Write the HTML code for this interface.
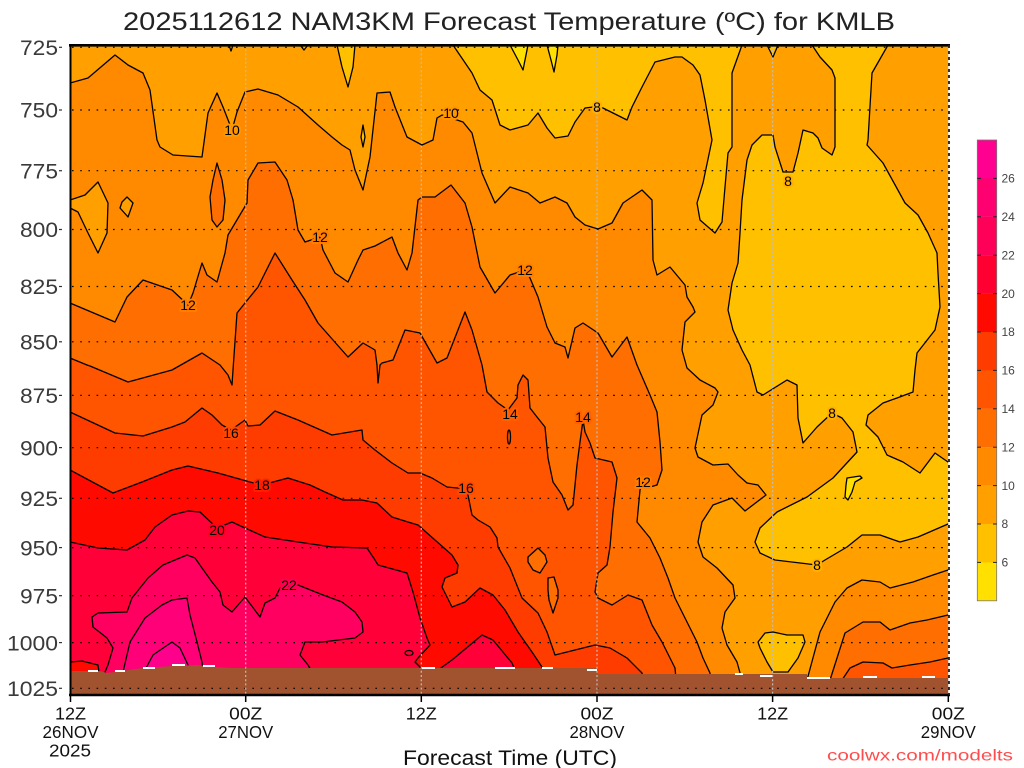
<!DOCTYPE html>
<html><head><meta charset="utf-8"><title>NAM3KM Forecast Temperature KMLB</title>
<style>html,body{margin:0;padding:0;background:#fff;}svg{display:block;}</style></head>
<body>
<svg width="1024" height="768" viewBox="0 0 1024 768" xmlns="http://www.w3.org/2000/svg" font-family="Liberation Sans, sans-serif">
<rect width="1024" height="768" fill="#fff"/>
<defs><clipPath id="c"><rect x="70" y="45" width="878.5" height="650"/></clipPath></defs>

<g clip-path="url(#c)" stroke="#000" stroke-width="1.3" stroke-linejoin="round">
<rect x="60" y="40" width="900" height="670" fill="#FFA000" stroke="none"/>
<g fill="#FFC000">
<polygon points="453,40 453,45 472,73 480,90 492,100 500,125 510,130 528,125 538,113 547,128 555,138 568,136 575,122 585,108 593,107 603,108 627,120 632,107 642,87 655,62 675,57 682,57 693,65 700,75 705,100 712,140 703,183 697,203 700,220 715,233 722,222 725,187 728,153 732,147 732,73 742,45 742,40"/>
<polygon points="812,40 812,45 820,57 832,70 835,78 835,147 832,155 822,148 818,138 813,133 803,130 798,153 793,172 783,172 775,147 773,135 762,135 752,145 747,160 742,200 740,233 738,263 732,283 728,310 733,330 742,350 750,365 757,392 763,395 787,380 797,385 798,418 803,443 817,427 832,413 842,418 853,432 857,452 833,478 807,497 777,512 760,528 755,542 760,553 775,560 817,565 825,560 847,547 862,535 880,535 900,542 918,537 948,524 955,522 955,462 948,462 935,453 920,473 903,462 887,455 878,437 866,425 868,415 883,403 897,398 913,392 915,370 917,353 935,330 940,307 938,273 937,253 928,233 918,215 905,203 883,163 867,145 868,140 872,73 888,45 888,40"/>
<polygon points="767,40 767,45 773,57 778,45 778,40"/>
<polygon points="337,40 337,45 342,67 348,87 353,67 355,45 355,40"/>
<polygon points="363,125 365,137 363,147 361,137"/>
<polygon points="300,40 300,45 304,50 308,45 308,40"/>
<polygon points="229,40 229,45 231,51 233,45 233,40"/>
<polygon points="758,642 765,633 773,632 787,635 803,635 805,642 798,658 788,672 773,672 767,662 760,648"/>
</g>
<g fill="#FFE000">
<polygon points="510,40 510,45 518,60 523,70 526,55 528,45 528,40"/>
<polygon points="547,40 547,45 551,60 554,72 557,55 558,45 558,40"/>
<polygon points="847,478 860,476 862,478 855,482 852,492 848,500 845,497 846,485"/>
</g>
<g fill="#FF8A00">
<polygon points="65,83 70,83 88,78 115,55 128,65 143,73 150,90 157,140 160,147 173,155 202,157 208,113 217,93 223,107 232,130 237,112 245,92 258,89 278,95 298,107 318,125 332,137 342,145 350,150 355,170 363,190 370,157 377,93 390,92 395,107 407,137 422,145 433,140 437,118 442,115 463,122 472,133 482,173 495,203 510,187 528,193 540,203 555,197 567,203 575,217 585,225 598,229 612,223 623,203 642,190 652,200 653,260 657,275 670,267 685,285 687,297 693,307 695,312 685,322 682,350 687,368 700,380 715,388 718,392 713,405 702,415 695,448 698,457 713,465 728,464 738,475 747,483 758,485 766,495 745,511 732,498 713,505 702,522 698,542 703,557 717,568 733,585 735,598 725,612 722,628 727,645 737,662 742,680 742,700 65,700"/>
<polygon points="807,680 820,632 835,602 847,588 862,580 880,582 890,588 913,582 933,575 948,570 955,570 955,700 807,700"/>
</g>
<g fill="#FFA000">
<polygon points="65,200 70,200 85,195 98,182 108,203 107,233 98,253 88,233 78,212 70,208 65,208"/>
<polygon points="127,197 133,203 128,217 120,208 122,202"/>
</g>
<g fill="#FF6E00">
<polygon points="65,303 70,303 115,322 127,297 143,280 172,290 188,305 193,293 202,263 207,275 217,282 225,253 228,235 247,203 248,180 258,163 275,162 287,180 293,200 298,230 305,242 320,237 323,250 335,273 348,282 358,260 363,250 375,246 392,237 398,253 407,270 412,253 418,200 422,197 435,197 451,185 465,203 472,227 480,267 495,293 510,275 525,270 530,278 538,297 547,327 555,343 565,347 568,358 575,328 583,323 598,333 612,357 627,337 637,365 650,395 657,412 660,442 662,470 657,485 650,487 643,482 640,490 637,522 650,538 660,558 668,578 675,598 687,622 697,642 703,658 710,673 712,700 65,700"/>
<polygon points="830,680 845,633 863,622 880,622 890,630 910,623 927,620 948,615 955,615 955,700 830,700"/>
<polygon points="217,163 222,180 225,200 223,220 217,227 212,220 210,197 213,180"/>
</g>
<g fill="#FF5500">
<polygon points="65,358 70,358 87,365 90,366 128,382 172,370 202,353 220,365 228,375 232,385 233,370 237,313 245,303 258,287 275,253 292,280 305,300 318,323 348,357 363,343 375,350 377,365 378,383 380,365 382,363 393,360 405,330 420,333 437,363 447,358 465,312 472,330 482,365 487,392 498,403 508,410 517,398 518,385 523,375 528,380 530,408 537,417 545,427 548,458 553,482 562,495 568,510 573,505 577,465 580,442 583,420 585,432 590,443 595,458 612,462 617,478 613,512 610,547 607,565 598,573 595,592 598,598 612,605 628,595 642,600 652,625 662,642 675,668 678,700 65,700"/>
<polygon points="842,680 850,668 863,662 883,663 892,668 910,665 930,662 948,658 955,658 955,700 842,700"/>
</g>
<g fill="#FF6E00">
<polygon points="528,557 538,548 545,555 547,562 540,573 533,570 528,562"/>
<polygon points="548,578 554,577 558,590 558,598 553,613 549,600 548,590"/>
</g>
<ellipse cx="509" cy="437" rx="1.5" ry="7" fill="none"/>
<polygon fill="#FF3C00" points="65,412 70,412 115,433 143,436 172,427 185,422 202,408 212,415 222,425 231,430 245,420 248,426 260,425 275,411 298,420 332,435 362,430 363,440 375,450 392,463 408,473 420,473 432,478 447,487 457,488 466,488 468,495 472,515 478,520 490,527 497,538 498,547 510,568 522,598 538,613 547,632 555,655 575,650 595,645 610,648 627,658 642,673 645,700 65,700"/>
<polygon fill="#FF0A00" points="65,470 70,470 113,493 142,482 172,470 188,466 218,473 250,482 262,485 273,482 288,478 310,485 325,492 343,500 362,500 377,503 392,517 408,522 418,525 435,540 452,555 458,565 457,573 445,578 442,587 447,597 452,607 465,602 480,588 493,595 505,610 518,632 532,652 542,667 545,700 65,700"/>
<g fill="#FF0038">
<polygon points="65,542 70,542 98,548 127,550 145,540 155,527 172,515 188,511 200,512 217,528 232,522 245,528 265,537 298,542 332,547 367,548 375,560 378,565 407,573 413,592 420,618 427,638 430,645 418,658 415,662 423,670 425,700 65,700"/>
<polygon points="438,670 452,660 482,635 493,640 512,663 515,670 516,700 437,700"/>
</g>
<ellipse cx="409" cy="653" rx="4" ry="2.5" fill="none"/>
<polygon fill="#FF0A00" points="65,662 70,662 82,661 98,665 100,680 65,680"/>
<polygon fill="#FF0060" points="105,672 108,665 113,648 107,638 93,627 92,617 98,613 127,612 132,598 148,578 163,565 187,555 195,558 202,568 212,582 220,592 223,605 232,612 245,597 260,617 265,603 275,598 280,588 298,585 323,595 342,602 355,612 362,622 363,632 355,638 322,642 305,642 300,655 308,665 312,672 312,700 105,700"/>
<polygon fill="#FF0078" points="123,672 130,642 145,618 162,605 172,600 187,598 190,615 197,642 202,662 203,672 203,700 123,700"/>
<polygon fill="#FF008C" points="145,670 153,655 172,642 180,648 188,665 188,700 145,700"/>

<polygon fill="#A0532E" stroke="none" points="65,671 100,671 107,673 115,672 143,668 173,666 197,665 213,667 233,668 598,668 598,674 807,674 807,678 955,678 955,700 65,700"/>
<g fill="#fff" stroke="none">
<rect x="88" y="670" width="10" height="2"/><rect x="115" y="670" width="10" height="2"/>
<rect x="143" y="667" width="12" height="2"/><rect x="172" y="664" width="13" height="2"/>
<rect x="203" y="665" width="12" height="2"/><rect x="422" y="667" width="13" height="2"/>
<rect x="495" y="667" width="20" height="2"/><rect x="542" y="667" width="11" height="2"/>
<rect x="587" y="669" width="10" height="2"/><rect x="735" y="673" width="8" height="2"/>
<rect x="760" y="675" width="13" height="2"/><rect x="807" y="677" width="23" height="2"/>
<rect x="863" y="676" width="14" height="2"/><rect x="922" y="676" width="13" height="2"/>
</g>

<g font-size="14" fill="#000" stroke-width="4" paint-order="stroke" text-anchor="middle">
<text x="232" y="135" stroke="#FF9500">10</text>
<text x="188" y="310" stroke="#FF7D00">12</text>
<text x="320" y="242" stroke="#FF7D00">12</text>
<text x="451" y="118" stroke="#FF9500">10</text>
<text x="597" y="112" stroke="#FFB000">8</text>
<text x="525" y="275" stroke="#FF7D00">12</text>
<text x="788" y="186" stroke="#FFB000">8</text>
<text x="510" y="419" stroke="#FF6000">14</text>
<text x="583" y="422" stroke="#FF6000">14</text>
<text x="643" y="487" stroke="#FF7D00">12</text>
<text x="231" y="438" stroke="#FF4800">16</text>
<text x="262" y="490" stroke="#FF2000">18</text>
<text x="217" y="535" stroke="#FF0020">20</text>
<text x="289" y="590" stroke="#FF0050">22</text>
<text x="466" y="493" stroke="#FF4800">16</text>
<text x="832" y="418" stroke="#FFB000">8</text>
<text x="817" y="570" stroke="#FFB000">8</text>
</g>

<g stroke="#000" stroke-width="1.2" stroke-dasharray="1.6,6.6" fill="none">
<line x1="72" y1="47.3" x2="948" y2="47.3"/>
<line x1="72" y1="110" x2="948" y2="110"/>
<line x1="72" y1="170.7" x2="948" y2="170.7"/>
<line x1="72" y1="229.5" x2="948" y2="229.5"/>
<line x1="72" y1="286.5" x2="948" y2="286.5"/>
<line x1="72" y1="341.8" x2="948" y2="341.8"/>
<line x1="72" y1="395.4" x2="948" y2="395.4"/>
<line x1="72" y1="447.6" x2="948" y2="447.6"/>
<line x1="72" y1="498.3" x2="948" y2="498.3"/>
<line x1="72" y1="547.6" x2="948" y2="547.6"/>
<line x1="72" y1="595.7" x2="948" y2="595.7"/>
<line x1="72" y1="642.6" x2="948" y2="642.6"/>
<line x1="72" y1="688.3" x2="948" y2="688.3"/>
</g>
<g stroke="#BDBDBD" stroke-width="1.2" stroke-dasharray="2,2.2" fill="none">
<line x1="245.7" y1="45" x2="245.7" y2="695"/>
<line x1="421.3" y1="45" x2="421.3" y2="695"/>
<line x1="597" y1="45" x2="597" y2="695"/>
<line x1="772.6" y1="45" x2="772.6" y2="695"/>
</g>
</g>

<line x1="70.5" y1="44" x2="70.5" y2="696" stroke="#000" stroke-width="2"/>
<line x1="69" y1="45.3" x2="950" y2="45.3" stroke="#000" stroke-width="2.6"/>
<line x1="69" y1="695" x2="950" y2="695" stroke="#000" stroke-width="2.6"/>
<line x1="949" y1="45" x2="949" y2="695" stroke="#fff" stroke-width="1.6"/>
<line x1="949" y1="45" x2="949" y2="695" stroke="#000" stroke-width="1.6" stroke-dasharray="3,3"/>
<g stroke="#000" stroke-width="1.5">
<line x1="70.5" y1="695" x2="70.5" y2="702"/>
<line x1="245.7" y1="695" x2="245.7" y2="702"/>
<line x1="421.3" y1="695" x2="421.3" y2="702"/>
<line x1="597" y1="695" x2="597" y2="702"/>
<line x1="772.6" y1="695" x2="772.6" y2="702"/>
<line x1="948.3" y1="695" x2="948.3" y2="702"/>
</g>
<g stroke="#333" stroke-width="1.2">
<line x1="59" y1="47.3" x2="62" y2="47.3"/><line x1="59" y1="110" x2="62" y2="110"/>
<line x1="59" y1="170.7" x2="62" y2="170.7"/><line x1="59" y1="229.5" x2="62" y2="229.5"/>
<line x1="59" y1="286.5" x2="62" y2="286.5"/><line x1="59" y1="341.8" x2="62" y2="341.8"/>
<line x1="59" y1="395.4" x2="62" y2="395.4"/><line x1="59" y1="447.6" x2="62" y2="447.6"/>
<line x1="59" y1="498.3" x2="62" y2="498.3"/><line x1="59" y1="547.6" x2="62" y2="547.6"/>
<line x1="59" y1="595.7" x2="62" y2="595.7"/><line x1="59" y1="642.6" x2="62" y2="642.6"/>
<line x1="59" y1="688.3" x2="62" y2="688.3"/>
</g>

<text x="123" y="30" font-size="25" fill="#222" textLength="772" lengthAdjust="spacingAndGlyphs">2025112612 NAM3KM Forecast Temperature (ºC) for KMLB</text>

<g font-size="21" fill="#3a3a3a" text-anchor="end">
<text x="58" y="55" textLength="38" lengthAdjust="spacingAndGlyphs">725</text>
<text x="58" y="117.7" textLength="38" lengthAdjust="spacingAndGlyphs">750</text>
<text x="58" y="178.4" textLength="38" lengthAdjust="spacingAndGlyphs">775</text>
<text x="58" y="237.2" textLength="38" lengthAdjust="spacingAndGlyphs">800</text>
<text x="58" y="294.2" textLength="38" lengthAdjust="spacingAndGlyphs">825</text>
<text x="58" y="349.5" textLength="38" lengthAdjust="spacingAndGlyphs">850</text>
<text x="58" y="403.1" textLength="38" lengthAdjust="spacingAndGlyphs">875</text>
<text x="58" y="455.3" textLength="38" lengthAdjust="spacingAndGlyphs">900</text>
<text x="58" y="506" textLength="38" lengthAdjust="spacingAndGlyphs">925</text>
<text x="58" y="555.3" textLength="38" lengthAdjust="spacingAndGlyphs">950</text>
<text x="58" y="603.4" textLength="38" lengthAdjust="spacingAndGlyphs">975</text>
<text x="58" y="650.3" textLength="51" lengthAdjust="spacingAndGlyphs">1000</text>
<text x="58" y="696" textLength="51" lengthAdjust="spacingAndGlyphs">1025</text>
</g>

<g font-size="17.5" fill="#111" text-anchor="middle">
<text x="70.5" y="719.5" textLength="31" lengthAdjust="spacingAndGlyphs">12Z</text>
<text x="70.5" y="738" textLength="56" lengthAdjust="spacingAndGlyphs">26NOV</text>
<text x="70" y="756.5" textLength="42" lengthAdjust="spacingAndGlyphs">2025</text>
<text x="245.7" y="719.5" textLength="33" lengthAdjust="spacingAndGlyphs">00Z</text>
<text x="245.7" y="738" textLength="55" lengthAdjust="spacingAndGlyphs">27NOV</text>
<text x="421.3" y="719.5" textLength="31" lengthAdjust="spacingAndGlyphs">12Z</text>
<text x="597" y="719.5" textLength="33" lengthAdjust="spacingAndGlyphs">00Z</text>
<text x="597" y="738" textLength="55" lengthAdjust="spacingAndGlyphs">28NOV</text>
<text x="772.6" y="719.5" textLength="31" lengthAdjust="spacingAndGlyphs">12Z</text>
<text x="948.3" y="719.5" textLength="33" lengthAdjust="spacingAndGlyphs">00Z</text>
<text x="948.3" y="738" textLength="55" lengthAdjust="spacingAndGlyphs">29NOV</text>
</g>
<text x="510" y="765" font-size="21" fill="#111" text-anchor="middle" textLength="214" lengthAdjust="spacingAndGlyphs">Forecast Time (UTC)</text>
<text x="827" y="760.5" font-size="16" fill="#FF4D4D" textLength="186" lengthAdjust="spacingAndGlyphs">coolwx.com/modelts</text>

<g stroke="none">
<rect x="977.3" y="140" width="19.4" height="38.5" fill="#FF0090"/>
<rect x="977.3" y="178.4" width="19.4" height="38.5" fill="#FF0070"/>
<rect x="977.3" y="216.8" width="19.4" height="38.5" fill="#FF0058"/>
<rect x="977.3" y="255.2" width="19.4" height="38.5" fill="#FF0032"/>
<rect x="977.3" y="293.6" width="19.4" height="38.5" fill="#FF0A00"/>
<rect x="977.3" y="332" width="19.4" height="38.5" fill="#FF3C00"/>
<rect x="977.3" y="370.4" width="19.4" height="38.5" fill="#FF5500"/>
<rect x="977.3" y="408.8" width="19.4" height="38.5" fill="#FF6E00"/>
<rect x="977.3" y="447.2" width="19.4" height="38.5" fill="#FF8A00"/>
<rect x="977.3" y="485.6" width="19.4" height="38.5" fill="#FFA000"/>
<rect x="977.3" y="524" width="19.4" height="38.5" fill="#FFC000"/>
<rect x="977.3" y="562.4" width="19.4" height="38.4" fill="#FFE000"/>
</g>
<rect x="977.3" y="140" width="19.4" height="460.8" fill="none" stroke="#777" stroke-width="0.8"/>
<g stroke="#222" stroke-width="1">
<line x1="977.3" y1="178.4" x2="981" y2="178.4"/><line x1="993" y1="178.4" x2="996.7" y2="178.4"/>
<line x1="977.3" y1="216.8" x2="981" y2="216.8"/><line x1="993" y1="216.8" x2="996.7" y2="216.8"/>
<line x1="977.3" y1="255.2" x2="981" y2="255.2"/><line x1="993" y1="255.2" x2="996.7" y2="255.2"/>
<line x1="977.3" y1="293.6" x2="981" y2="293.6"/><line x1="993" y1="293.6" x2="996.7" y2="293.6"/>
<line x1="977.3" y1="332" x2="981" y2="332"/><line x1="993" y1="332" x2="996.7" y2="332"/>
<line x1="977.3" y1="370.4" x2="981" y2="370.4"/><line x1="993" y1="370.4" x2="996.7" y2="370.4"/>
<line x1="977.3" y1="408.8" x2="981" y2="408.8"/><line x1="993" y1="408.8" x2="996.7" y2="408.8"/>
<line x1="977.3" y1="447.2" x2="981" y2="447.2"/><line x1="993" y1="447.2" x2="996.7" y2="447.2"/>
<line x1="977.3" y1="485.6" x2="981" y2="485.6"/><line x1="993" y1="485.6" x2="996.7" y2="485.6"/>
<line x1="977.3" y1="524" x2="981" y2="524"/><line x1="993" y1="524" x2="996.7" y2="524"/>
<line x1="977.3" y1="562.4" x2="981" y2="562.4"/><line x1="993" y1="562.4" x2="996.7" y2="562.4"/>
</g>
<g font-size="12" fill="#444">
<text x="1001.5" y="182.6">26</text>
<text x="1001.5" y="221">24</text>
<text x="1001.5" y="259.4">22</text>
<text x="1001.5" y="297.8">20</text>
<text x="1001.5" y="336.2">18</text>
<text x="1001.5" y="374.6">16</text>
<text x="1001.5" y="413">14</text>
<text x="1001.5" y="451.4">12</text>
<text x="1001.5" y="489.8">10</text>
<text x="1001.5" y="528.2">8</text>
<text x="1001.5" y="566.6">6</text>
</g>
</svg>
</body></html>
